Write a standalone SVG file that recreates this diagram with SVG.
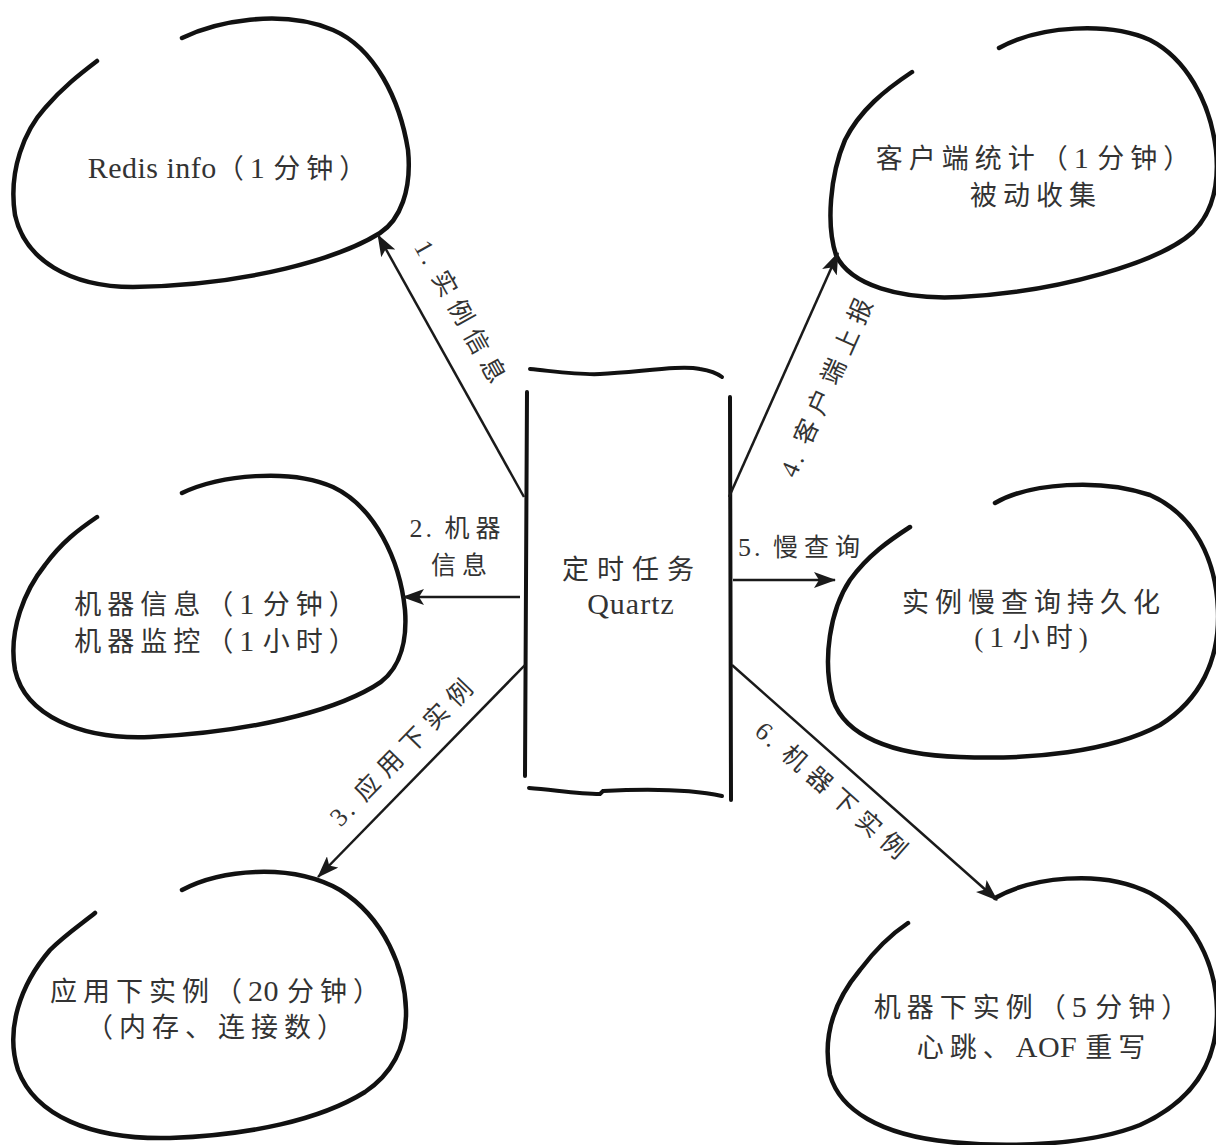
<svg xmlns="http://www.w3.org/2000/svg" width="1216" height="1145" viewBox="0 0 1216 1145">
<defs>
<marker id="ah" markerUnits="userSpaceOnUse" markerWidth="24" markerHeight="16" refX="21" refY="8" orient="auto">
<path d="M0,0 L22,8 L0,16 L5,8 z" fill="#1a1a1a"/>
</marker>
<style>
.blob{fill:none;stroke:#111;stroke-width:4.5;stroke-linecap:round}
.box{fill:none;stroke:#111;stroke-width:4;stroke-linecap:round}
.arr{fill:none;stroke:#1a1a1a;stroke-width:2.5;marker-end:url(#ah)}
.t{font-family:"Liberation Serif","Noto Sans CJK SC",serif;font-size:27px;fill:#333;text-anchor:middle;letter-spacing:6px}
.l{font-family:"Liberation Serif","Noto Sans CJK SC",serif;font-size:25px;fill:#333;text-anchor:middle;letter-spacing:8px;dominant-baseline:central}
.h{letter-spacing:6px}
.a{font-size:30px;letter-spacing:0.5px}
.la{font-size:26px;letter-spacing:3px}
</style>
</defs>
<rect width="1216" height="1145" fill="#fff"/>
<g id="n-redis">
<path class="blob" d="M182,38 C215,22 280,8 333,30 C375,48 400,100 408,150 C412,190 400,220 380,233 C340,258 250,285 133,287 C70,287 25,260 15,215 C8,170 25,130 45,108 C62,88 80,74 97,61"/>
<text class="t" x="230" y="178"><tspan class="a">Redis info</tspan>（<tspan class="a">1 </tspan>分钟）</text>
</g>
<g id="n-client">
<path class="blob" d="M999,48 C1040,25 1110,22 1150,40 C1185,58 1210,100 1216,150 C1220,190 1210,215 1193,232 C1160,262 1060,292 960,297 C900,300 850,285 836,255 C826,225 830,175 845,140 C860,110 885,90 912,72"/>
<text class="t" x="1036" y="168">客户端统计（<tspan class="a">1 </tspan>分钟）</text>
<text class="t" x="1036" y="205">被动收集</text>
</g>
<g id="n-machine">
<path class="blob" d="M182,493 C220,475 290,468 333,487 C375,507 400,560 405,610 C408,650 395,675 373,687 C330,712 250,732 150,737 C80,740 25,715 15,670 C8,630 25,590 45,565 C62,542 78,530 97,517"/>
<text class="t" x="218" y="614">机器信息（<tspan class="a">1 </tspan>分钟）</text>
<text class="t" x="218" y="651">机器监控（<tspan class="a">1 </tspan>小时）</text>
</g>
<g id="n-slowlog">
<path class="blob" d="M995,503 C1030,483 1100,478 1150,495 C1195,515 1216,560 1218,610 C1220,660 1200,700 1160,725 C1110,752 1030,760 960,757 C890,755 845,735 833,700 C822,660 830,610 850,580 C868,555 890,540 910,527"/>
<text class="t" x="1034" y="612">实例慢查询持久化</text>
<text class="t" x="1034" y="647">(<tspan class="a">1 </tspan>小时)</text>
</g>
<g id="n-app">
<path class="blob" d="M182,890 C220,870 290,862 340,890 C385,918 405,970 406,1010 C407,1050 390,1075 365,1092 C320,1120 250,1135 170,1138 C90,1140 35,1115 18,1070 C5,1030 20,985 50,950 C65,935 80,925 95,913"/>
<text class="t" x="218" y="1001">应用下实例（<tspan class="a">20 </tspan>分钟）</text>
<text class="t" x="218" y="1037">（内存、连接数）</text>
</g>
<g id="n-hostinst">
<path class="blob" d="M995,898 C1030,878 1100,868 1150,893 C1195,918 1216,965 1217,1010 C1218,1060 1195,1100 1140,1125 C1090,1145 1010,1148 950,1142 C880,1135 840,1110 830,1075 C822,1035 835,1000 860,970 C875,950 890,935 908,923"/>
<text class="t" x="1034" y="1017">机器下实例（<tspan class="a">5 </tspan>分钟）</text>
<text class="t" x="1034" y="1057">心跳、<tspan class="a">AOF </tspan>重写</text>
</g>
<g id="n-quartz">
<path class="box" d="M530,369 C560,372 580,375 600,374 C640,372 680,365 700,369 C712,371 718,374 722,377"/>
<path class="box" d="M527,392 L525,776"/>
<path class="box" d="M730,397 L731,800"/>
<path class="box" d="M529,788 C555,790 578,794 600,794 L603,791 C640,789 690,789 722,796"/>
<text class="t" x="632" y="579" style="letter-spacing:8px">定时任务</text>
<text class="t" x="631" y="614"><tspan class="a" style="letter-spacing:1px">Quartz</tspan></text>
</g>
<g id="connectors">
<line class="arr" x1="524" y1="497" x2="378" y2="235"/>
<line class="arr" x1="520" y1="597" x2="403" y2="597"/>
<line class="arr" x1="525" y1="665" x2="318" y2="877"/>
<line class="arr" x1="729" y1="497" x2="838" y2="253"/>
<line class="arr" x1="733" y1="580" x2="835" y2="580"/>
<line class="arr" x1="732" y1="665" x2="997" y2="900"/>
<text class="l" transform="translate(462,315) rotate(60.9)"><tspan class="la">1. </tspan>实例信息</text>
<text class="l h" x="458" y="528"><tspan class="la">2. </tspan>机器</text>
<text class="l h" x="462" y="565">信息</text>
<text class="l" transform="translate(404,750) rotate(-45.7)"><tspan class="la">3. </tspan>应用下实例</text>
<text class="l" transform="translate(828,384) rotate(-65.9)"><tspan class="la">4. </tspan>客户端上报</text>
<text class="l h" x="802" y="547"><tspan class="la">5. </tspan>慢查询</text>
<text class="l" transform="translate(834,793) rotate(41.6)"><tspan class="la">6. </tspan>机器下实例</text>
</g>
</svg>
